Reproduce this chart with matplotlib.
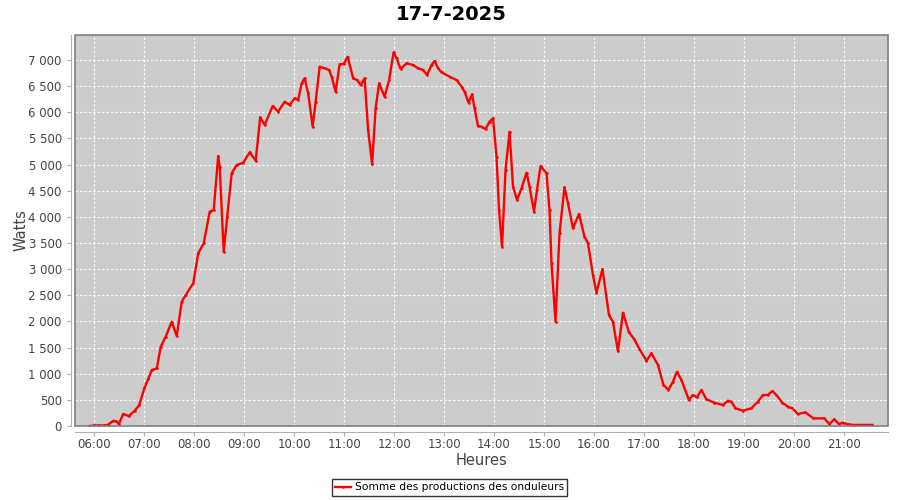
import matplotlib
matplotlib.use("Agg")
import matplotlib.pyplot as plt
from matplotlib.ticker import FixedLocator, FuncFormatter
from matplotlib.patches import Rectangle

title = "17-7-2025"
series_name = "Somme des productions des onduleurs"

hours = [5.90, 6.00, 6.10, 6.20, 6.27, 6.38, 6.44, 6.49, 6.58, 6.69, 6.81, 6.90,
         7.00, 7.08, 7.15, 7.25, 7.33, 7.43, 7.55, 7.65, 7.75, 7.83, 7.98,
         8.08, 8.19, 8.31, 8.39, 8.48, 8.51, 8.59, 8.66, 8.75, 8.85, 8.98,
         9.11, 9.23, 9.32, 9.41, 9.57, 9.68, 9.81, 9.91,
         10.01, 10.08, 10.15, 10.21, 10.28, 10.37, 10.43, 10.51, 10.61, 10.70, 10.75, 10.83, 10.91, 10.99,
         11.07, 11.18, 11.26, 11.33, 11.41, 11.48, 11.56, 11.63, 11.70, 11.81, 11.90, 11.99,
         12.05, 12.13, 12.25, 12.38, 12.48, 12.58, 12.66, 12.75, 12.81, 12.88, 12.95,
         13.11, 13.25, 13.35, 13.41, 13.49, 13.56, 13.61, 13.68, 13.75, 13.83, 13.91, 13.98,
         14.05, 14.10, 14.16, 14.23, 14.31, 14.38, 14.46, 14.55, 14.65, 14.71, 14.80, 14.86, 14.93,
         15.05, 15.11, 15.15, 15.23, 15.31, 15.41, 15.48, 15.58, 15.70, 15.81, 15.88, 15.98,
         16.05, 16.17, 16.30, 16.38, 16.48, 16.58, 16.70, 16.80, 16.91,
         17.05, 17.15, 17.28, 17.39, 17.49, 17.58, 17.66, 17.75, 17.90, 17.98,
         18.06, 18.15, 18.25, 18.41, 18.58, 18.68, 18.75, 18.83, 18.98,
         19.15, 19.28, 19.38, 19.48, 19.57, 19.65, 19.77, 19.88, 19.97,
         20.08, 20.23, 20.39, 20.61, 20.71, 20.81, 20.90, 20.98,
         21.08, 21.20, 21.57]

watts = [0, 10, 10, 10, 20, 100, 90, 38, 230, 190, 293, 400,
         720, 900, 1070, 1100, 1517, 1710, 1995, 1720, 2378, 2505, 2729,
         3303, 3494, 4099, 4131, 5164, 4960, 3333, 4003, 4833, 4992, 5036,
         5234, 5074, 5904, 5757, 6120, 6011, 6202, 6139,
         6267, 6235, 6554, 6650, 6363, 5725, 6202, 6872, 6841, 6809, 6681, 6394, 6918, 6923,
         7063, 6650, 6617, 6522, 6650, 5661, 5005, 6076, 6554, 6298, 6617, 7147,
         7032, 6828, 6937, 6904, 6841, 6809, 6713, 6904, 6981, 6841, 6764,
         6681, 6617, 6489, 6394, 6183, 6343, 6076, 5737, 5725, 5680, 5820, 5885,
         5150, 4131, 3429, 4896, 5629, 4577, 4322, 4546, 4845, 4577, 4099, 4514, 4973,
         4833, 4131, 3112, 1995, 3685, 4565, 4259, 3781, 4055, 3621, 3494, 2888,
         2550, 3000, 2123, 1990, 1430, 2167, 1790, 1670, 1470,
         1250, 1390, 1167, 784, 689, 847, 1039, 880, 497, 593,
         548, 689, 510, 446, 402, 484, 465, 338, 293,
         338, 465, 593, 593, 669, 593, 446, 370, 338,
         230, 261, 146, 146, 38, 127, 38, 64,
         32, 20, 20]

x_ticks = [6, 7, 8, 9, 10, 11, 12, 13, 14, 15, 16, 17, 18, 19, 20, 21]
x_labels = ["06:00", "07:00", "08:00", "09:00", "10:00", "11:00", "12:00", "13:00",
            "14:00", "15:00", "16:00", "17:00", "18:00", "19:00", "20:00", "21:00"]
y_ticks = [0, 500, 1000, 1500, 2000, 2500, 3000, 3500, 4000, 4500, 5000, 5500, 6000, 6500, 7000]

plt.rcParams['font.family'] = ['DejaVu Sans']
fig = plt.figure(figsize=(9, 5), dpi=100)
ax = fig.add_axes([75 / 900, 74 / 500, 813 / 900, 391 / 500])
ax.set_facecolor("#cccccc")

ax.plot(hours, watts, color="#ff0000", linewidth=1.7, marker="s", markersize=0.8,
        label=series_name, zorder=3, solid_joinstyle="round")

ax.set_xlim(5.614, 21.884)
ax.set_ylim(0, 7478)

ax.xaxis.set_major_locator(FixedLocator(x_ticks))
ax.set_xticklabels(x_labels)
ax.yaxis.set_major_locator(FixedLocator(y_ticks))
ax.yaxis.set_major_formatter(FuncFormatter(lambda v, p: f"{int(v):,}".replace(",", " ")))

ax.grid(True, color="white", linestyle=(0, (2, 2)), linewidth=0.8, zorder=1)
ax.set_axisbelow(True)

for s in ["top", "right"]:
    ax.spines[s].set_visible(False)
ax.spines["left"].set_position(("outward", 3))
ax.spines["bottom"].set_position(("outward", 4))
ax.spines["left"].set_color("#b0b0b0")
ax.spines["bottom"].set_color("#b0b0b0")
ax.add_patch(Rectangle((0, 0), 1, 1, transform=ax.transAxes, fill=False,
                       edgecolor="#808080", linewidth=1.2, zorder=4, clip_on=False))

ax.tick_params(axis="both", colors="#b0b0b0", labelcolor="#444444", labelsize=8.5,
               length=3, width=0.8)
ax.tick_params(axis="x", pad=2)

ax.set_xlabel("Heures", fontsize=10.5, color="#444444", labelpad=1)
ax.set_ylabel("Watts", fontsize=10.5, color="#444444", labelpad=0)
ax.yaxis.set_label_coords(-0.057, 0.5)

fig.suptitle(title, fontsize=14, fontweight="bold", x=0.501, y=0.99, va="top")

leg = fig.legend(loc="center", bbox_to_anchor=(0.4994, 0.025), frameon=True,
                 fancybox=False, edgecolor="black", fontsize=7.7, handlelength=1.5,
                 handletextpad=0.3, borderpad=0.35, borderaxespad=0)
leg.get_frame().set_linewidth(1.0)

fig.savefig("out.png", dpi=100, facecolor="white")
